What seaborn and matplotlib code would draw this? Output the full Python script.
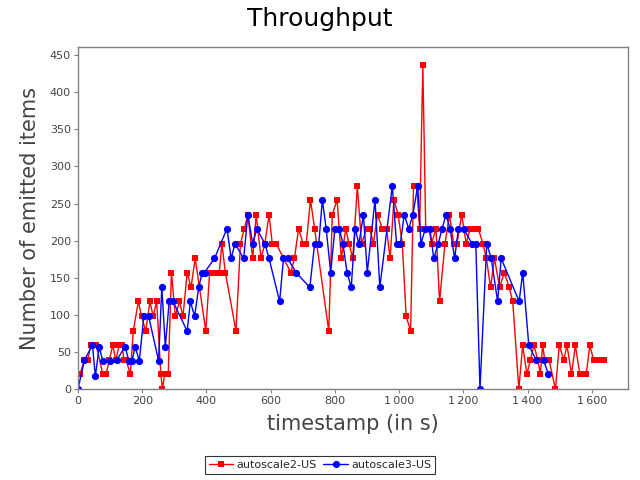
import matplotlib
matplotlib.use("Agg")
import matplotlib.pyplot as plt
from matplotlib.ticker import FuncFormatter
import seaborn as sns
import pandas as pd

# ---- data ----
red_t = [6, 20, 30, 40, 50, 57, 77, 87, 98, 108, 118, 128, 138, 143, 150, 163, 172, 188, 198, 211,
         224, 234, 245, 258, 263, 270, 281, 291, 303, 316, 327, 340, 352, 365, 398, 410, 420, 430, 440, 448,
         459, 492, 506, 518, 529, 544, 555, 570, 582, 595, 605, 617, 663, 674, 687, 701, 711, 724, 737, 781,
         792, 807, 820, 834, 844, 856, 870, 883, 899, 909, 920, 933, 948, 961, 972, 984, 997, 1010, 1022, 1036,
         1045, 1055, 1064, 1074, 1083, 1093, 1101, 1115, 1126, 1143, 1157, 1170, 1180, 1195, 1209, 1221, 1234, 1247, 1261, 1272,
         1285, 1297, 1313, 1328, 1343, 1354, 1373, 1385, 1398, 1409, 1420, 1432, 1440, 1447, 1454, 1467, 1487, 1499, 1513, 1523,
         1537, 1549, 1563, 1573, 1583, 1594, 1606, 1616, 1627, 1637]
red_v = [20, 39, 39, 59, 59, 59, 20, 20, 39, 59, 39, 59, 59, 39, 39, 20, 78, 118, 98, 78,
         118, 98, 118, 20, 0, 20, 20, 157, 98, 118, 98, 157, 137, 176, 78, 157, 157, 157, 157, 196,
         157, 78, 196, 216, 235, 176, 235, 176, 196, 235, 196, 196, 157, 176, 216, 196, 196, 255, 216, 78,
         235, 255, 176, 216, 196, 176, 274, 196, 216, 216, 196, 235, 216, 216, 176, 255, 235, 196, 98, 78,
         274, 274, 216, 437, 216, 216, 196, 216, 118, 196, 235, 196, 196, 235, 196, 216, 216, 216, 196, 176,
         137, 176, 137, 157, 137, 118, 0, 59, 20, 39, 59, 39, 20, 59, 39, 39, 0, 59, 39, 59,
         20, 59, 20, 20, 20, 59, 39, 39, 39, 39]

blue_t = [0, 20, 45, 54, 66, 77, 100, 120, 147, 158, 168, 178, 191, 205, 220, 251, 261, 272, 284, 296,
          340, 350, 363, 376, 387, 394, 425, 464, 477, 489, 516, 529, 544, 557, 582, 595, 628, 640, 653, 679,
          722, 737, 750, 761, 773, 787, 800, 814, 825, 838, 851, 863, 875, 889, 901, 925, 940, 979, 992, 1004,
          1016, 1030, 1043, 1058, 1068, 1082, 1096, 1108, 1122, 1134, 1146, 1159, 1173, 1185, 1201, 1227, 1239, 1252, 1273, 1287,
          1307, 1318, 1374, 1385, 1404, 1427, 1450, 1465]
blue_v = [0, 39, 59, 17, 57, 38, 38, 39, 57, 38, 38, 57, 38, 98, 98, 38, 137, 57, 118, 118,
          78, 118, 98, 137, 157, 157, 176, 216, 176, 196, 176, 235, 196, 216, 196, 176, 118, 176, 176, 157,
          137, 196, 196, 255, 216, 157, 216, 216, 196, 157, 137, 216, 196, 235, 157, 255, 137, 274, 196, 196,
          235, 216, 235, 274, 196, 216, 216, 176, 196, 216, 235, 216, 176, 216, 216, 196, 196, 0, 196, 176,
          118, 176, 118, 157, 59, 39, 39, 20]

series_names = ["autoscale2-US", "autoscale3-US"]
x_ticks = [0, 200, 400, 600, 800, 1000, 1200, 1400, 1600]
y_ticks = [0, 50, 100, 150, 200, 250, 300, 350, 400, 450]

red_df = pd.DataFrame({"t": red_t, "v": red_v})
blue_df = pd.DataFrame({"t": blue_t, "v": blue_v})

sns.set_style("white")
plt.rcParams["font.family"] = ["DejaVu Sans"]

fig = plt.figure(figsize=(6.4, 4.8), dpi=100)
ax = fig.add_axes([78 / 640, 1 - 389 / 480, 550 / 640, 342 / 480])

sns.lineplot(data=red_df, x="t", y="v", ax=ax, color="#ff0000", linewidth=1.0,
             marker="s", markersize=4.6, markeredgewidth=0, estimator=None, sort=False,
             label=series_names[0])
sns.lineplot(data=blue_df, x="t", y="v", ax=ax, color="#0000ff", linewidth=1.0,
             marker="o", markersize=5.2, markeredgewidth=0, estimator=None, sort=False,
             label=series_names[1])

ax.set_xlim(0, 1713)
ax.set_ylim(0, 461)
ax.set_xticks(x_ticks)
ax.set_yticks(y_ticks)
ax.xaxis.set_major_formatter(FuncFormatter(lambda v, p: f"{int(v):,}".replace(",", "\u2009")))

for s in ax.spines.values():
    s.set_color("#808080")
    s.set_linewidth(1.0)
ax.tick_params(axis="both", which="major", direction="out", length=3, width=0.8,
               color="#808080", labelsize=8, labelcolor="#444444", pad=2,
               bottom=True, left=True)

ax.set_xlabel("timestamp (in s)", fontsize=15, color="#444444", labelpad=6)
ax.set_ylabel("Number of emitted items", fontsize=15, color="#444444", labelpad=7)
fig.suptitle("Throughput", fontsize=18, y=0.985, color="black")

leg = ax.legend(loc="center", ncol=2, frameon=True, fancybox=False, fontsize=8,
                handlelength=2.2, columnspacing=0.6, handletextpad=0.3,
                borderpad=0.35, borderaxespad=0)
leg.get_frame().set_edgecolor("black")
leg.get_frame().set_linewidth(0.8)
leg.set_bbox_to_anchor((0.5, 1 - 465 / 480), transform=fig.transFigure)

fig.savefig("out.png", dpi=100)
